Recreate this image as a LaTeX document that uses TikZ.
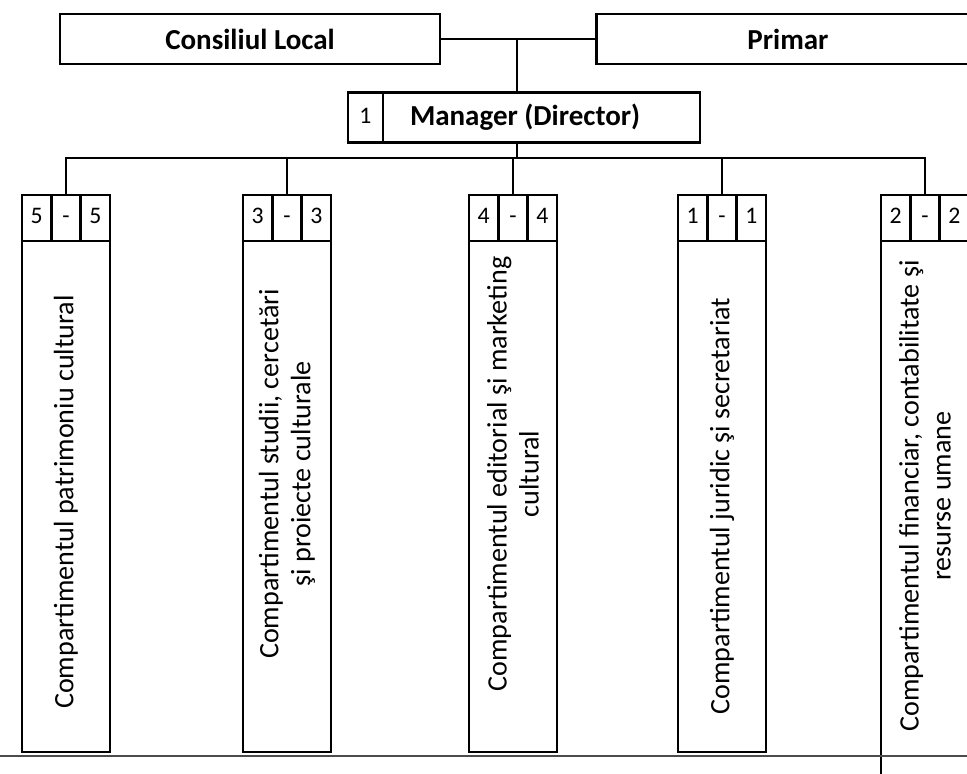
\documentclass[tikz,border=0pt]{standalone}
\usepackage{fontspec}
\setmainfont{Carlito}
\usetikzlibrary{positioning}
\tikzstyle{block} = [rectangle, draw, line width=1.6pt, minimum height=1cm, inner sep=0pt, outer sep=0pt, font=\fontsize{16.5}{19}\selectfont\bfseries]
\tikzstyle{cell} = [rectangle, draw, line width=1.6pt, minimum width=0.587cm, minimum height=0.92cm, inner sep=0pt, outer sep=0pt, text height=0.63em, text depth=0pt, font=\fontsize{13.5}{15}\selectfont]
\tikzstyle{body} = [rectangle, draw, line width=1.6pt, minimum width=1.76cm, inner sep=0pt, outer sep=0pt]
\tikzstyle{dept} = [rotate=90, align=center, inner sep=0pt, font=\fontsize{16}{18.2}\selectfont]
\tikzstyle{line} = [draw, line width=1.2pt]

\begin{document}
\begin{tikzpicture}
	\useasboundingbox (0,0) rectangle (19.34,-15.48);
	% Conducere
	\node [block, minimum width=7.6cm] (consiliu) at (5.0,-0.78) {Consiliul Local};
	\node [block, minimum width=7.66cm] (primar) at (15.76,-0.78) {Primar};
	\node [block, minimum width=6.34cm, text width=5.26cm, align=flush left] (manager) at (10.83,-2.35) {Manager (Director)};
	\node [cell, minimum width=0.7cm, minimum height=1cm, left=0pt of manager] (nrmanager) {1};
	
	% Compartiment 1
	\node [cell] (c1b) at (1.32,-4.36) {-};
	\node [cell, left=0pt of c1b] (c1a) {5};
	\node [cell, right=0pt of c1b] (c1c) {5};
	\node [body, minimum height=10.22cm, below=0pt of c1b] (c1) {};
	\node [dept] (t1) at ([yshift=-5.22cm]c1.north) {Compartimentul patrimoniu cultural};
	
	% Compartiment 2
	\node [cell] (c2b) at (5.74,-4.36) {-};
	\node [cell, left=0pt of c2b] (c2a) {3};
	\node [cell, right=0pt of c2b] (c2c) {3};
	\node [body, minimum height=10.22cm, below=0pt of c2b] (c2) {};
	\node [dept] (t2) at ([yshift=-4.66cm]c2.north) {Compartimentul studii, cercetări\\şi proiecte culturale};
	
	% Compartiment 3
	\node [cell] (c3b) at (10.26,-4.36) {-};
	\node [cell, left=0pt of c3b] (c3a) {4};
	\node [cell, right=0pt of c3b] (c3c) {4};
	\node [body, minimum height=10.22cm, below=0pt of c3b] (c3) {};
	\node [dept] (t3) at ([yshift=-4.66cm]c3.north) {Compartimentul editorial şi marketing\\cultural};
	
	% Compartiment 4
	\node [cell] (c4b) at (14.44,-4.36) {-};
	\node [cell, left=0pt of c4b] (c4a) {1};
	\node [cell, right=0pt of c4b] (c4c) {1};
	\node [body, minimum height=10.22cm, below=0pt of c4b] (c4) {};
	\node [dept] (t4) at ([yshift=-5.3cm]c4.north) {Compartimentul juridic şi secretariat};
	
	% Compartiment 5
	\node [cell] (c5b) at (18.5,-4.36) {-};
	\node [cell, left=0pt of c5b] (c5a) {2};
	\node [cell, right=0pt of c5b] (c5c) {2};
	\node [body, minimum height=11.18cm, below=0pt of c5b] (c5) {};
	\node [dept] (t5) at ([yshift=-5.1cm]c5.north) {Compartimentul financiar, contabilitate şi\\resurse umane};
	
	% Legaturi
	\coordinate (sus) at (10.34,-0.78);
	\coordinate (bus) at (10.34,-3.16);
	\draw[line] (consiliu) -- (primar);
	\draw[line] (sus) -- (sus |- manager.north);
	\draw[line] (sus |- manager.south) -- (bus);
	\draw[line] (c1b.north) -- (c1b.north |- bus) -- (c5b.north |- bus) -- (c5b.north);
	\draw[line] (c2b.north) -- (c2b.north |- bus);
	\draw[line] (c3b.north) -- (c3b.north |- bus);
	\draw[line] (c4b.north) -- (c4b.north |- bus);
	
	% linia de jos
	\draw[line width=0.8pt, black!70] (0,-15.12) -- (19.34,-15.12);
\end{tikzpicture}
\end{document}
